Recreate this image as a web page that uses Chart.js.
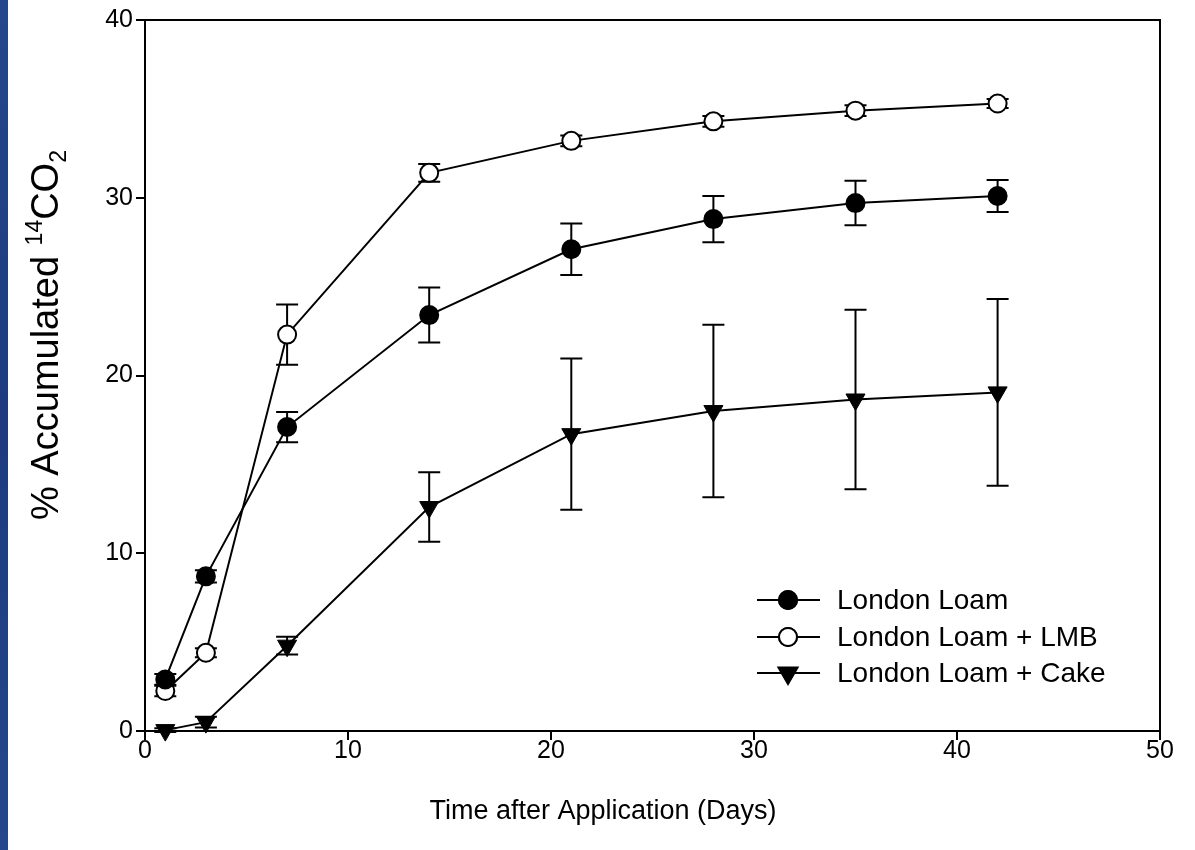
<!DOCTYPE html>
<html>
<head>
<meta charset="utf-8">
<script src="https://cdn.jsdelivr.net/npm/chart.js@4"></script>
<style>
  html, body { margin: 0; padding: 0; background: #fff; }
  #wrap { position: relative; width: 1195px; height: 850px; }
  #strip { position: absolute; left: 0; top: 0; width: 8px; height: 850px; background: linear-gradient(#26478c, #1d3b7e 50%, #26478c); }
  canvas { position: absolute; left: 0; top: 0; }
</style>
</head>
<body>
<div id="wrap">
  <div id="strip"></div>
  <canvas id="chart" width="1195" height="850"></canvas>
</div>
<script>
// days after application
const days = [1, 3, 7, 14, 21, 28, 35, 42];

// % accumulated 14CO2, means and error bars
const loam = [2.9, 8.7, 17.1, 23.4, 27.1, 28.8, 29.7, 30.1];
const loamErr = [0.3, 0.35, 0.85, 1.55, 1.45, 1.3, 1.25, 0.9];
const lmb = [2.25, 4.4, 22.3, 31.4, 33.2, 34.3, 34.9, 35.3];
const lmbErr = [0.3, 0.25, 1.7, 0.5, 0.3, 0.3, 0.3, 0.25];
const cake = [0.05, 0.5, 4.8, 12.6, 16.7, 18.0, 18.65, 19.05];
const cakeErr = [0.1, 0.3, 0.5, 1.95, 4.25, 4.85, 5.05, 5.25];

const seriesNames = ["London Loam", "London Loam + LMB", "London Loam + Cake"];
const xTicks = [0, 10, 20, 30, 40, 50];
const yTicks = [0, 10, 20, 30, 40];

const FONT = "'Liberation Sans', Arial, sans-serif";

function toPoints(ys) {
  return days.map((d, i) => ({ x: d, y: ys[i] }));
}

const errors = [loamErr, lmbErr, cakeErr];

// error bars go under the lines and markers
const errorBars = {
  id: "errorBars",
  beforeDatasetsDraw(chart) {
    const ctx = chart.ctx;
    const xs = chart.scales.x, ys = chart.scales.y;
    ctx.save();
    ctx.strokeStyle = "#000";
    ctx.lineWidth = 2;
    chart.data.datasets.forEach(ds => {
      const err = errors[ds.errIndex];
      ds.data.forEach((p, i) => {
        const px = xs.getPixelForValue(p.x);
        const top = ys.getPixelForValue(p.y + err[i]);
        const bot = ys.getPixelForValue(p.y - err[i]);
        ctx.beginPath();
        ctx.moveTo(px, top); ctx.lineTo(px, bot);
        ctx.moveTo(px - 11, top); ctx.lineTo(px + 11, top);
        ctx.moveTo(px - 11, bot); ctx.lineTo(px + 11, bot);
        ctx.stroke();
      });
    });
    ctx.restore();
  }
};

// frame, axis titles and legend
const decorations = {
  id: "decorations",
  afterDraw(chart) {
    const ctx = chart.ctx;
    const a = chart.chartArea;
    ctx.save();
    ctx.strokeStyle = "#000";
    ctx.lineWidth = 2;
    ctx.strokeRect(a.left, a.top, a.right - a.left, a.bottom - a.top);

    // x axis title
    ctx.fillStyle = "#000";
    ctx.font = "27px " + FONT;
    ctx.textAlign = "center";
    ctx.textBaseline = "middle";
    ctx.fillText("Time after Application (Days)", 603, 812);

    // y axis title with superscript/subscript
    ctx.translate(58, 335);
    ctx.rotate(-Math.PI / 2);
    ctx.textAlign = "left";
    ctx.textBaseline = "alphabetic";
    const big = "38px " + FONT, small = "23px " + FONT;
    const parts = [["% Accumulated ", big, 0], ["14", small, -16], ["CO", big, 0], ["2", small, 8]];
    let total = 0;
    parts.forEach(p => { ctx.font = p[1]; total += ctx.measureText(p[0]).width; });
    let cx = -total / 2;
    parts.forEach(p => {
      ctx.font = p[1];
      ctx.fillText(p[0], cx, p[2]);
      cx += ctx.measureText(p[0]).width;
    });
    ctx.restore();

    // legend
    ctx.save();
    const rows = [600, 637, 673];
    chart.data.datasets.slice().sort((p, q) => p.errIndex - q.errIndex).forEach((ds, i) => {
      const y = rows[i];
      ctx.strokeStyle = "#000";
      ctx.lineWidth = 2;
      ctx.beginPath();
      ctx.moveTo(757, y); ctx.lineTo(820, y);
      ctx.stroke();
      Chart.helpers.drawPoint(ctx, {
        pointStyle: ds.pointStyle, rotation: ds.pointRotation || 0,
        radius: ds.pointRadius, borderWidth: ds.pointBorderWidth
      }, 788, y);
      ctx.fillStyle = ds.pointBackgroundColor;
      ctx.strokeStyle = "#000";
      ctx.lineWidth = ds.pointBorderWidth;
      ctx.fill();
      ctx.stroke();
      ctx.fillStyle = "#000";
      ctx.font = "28px " + FONT;
      ctx.textBaseline = "middle";
      ctx.fillText(ds.label, 837, y + 1);
    });
    ctx.restore();
  }
};

new Chart(document.getElementById("chart"), {
  type: "line",
  data: {
    datasets: [
      {
        label: seriesNames[2], data: toPoints(cake), errIndex: 2,
        borderColor: "#000", borderWidth: 2, pointStyle: "triangle", pointRotation: 180,
        pointRadius: 11, pointBackgroundColor: "#000", pointBorderColor: "#000", pointBorderWidth: 1
      },
      {
        label: seriesNames[0], data: toPoints(loam), errIndex: 0,
        borderColor: "#000", borderWidth: 2, pointStyle: "circle",
        pointRadius: 9, pointBackgroundColor: "#000", pointBorderColor: "#000", pointBorderWidth: 2
      },
      {
        label: seriesNames[1], data: toPoints(lmb), errIndex: 1,
        borderColor: "#000", borderWidth: 2, pointStyle: "circle",
        pointRadius: 9, pointBackgroundColor: "#fff", pointBorderColor: "#000", pointBorderWidth: 2
      }
    ]
  },
  options: {
    responsive: false,
    animation: false,
    clip: false,
    layout: { padding: { top: 20, right: 35, left: 0, bottom: 0 } },
    elements: { line: { tension: 0 } },
    plugins: { legend: { display: false }, tooltip: { enabled: false } },
    scales: {
      x: {
        type: "linear", min: 0, max: 50,
        afterFit: s => { s.height = 119; s.paddingLeft = 0; s.paddingRight = 0; },
        afterBuildTicks: s => { s.ticks = xTicks.map(v => ({ value: v })); },
        grid: { drawOnChartArea: false, drawTicks: true, tickLength: 9, color: "#000", lineWidth: 2 },
        border: { display: true, color: "#000", width: 2 },
        ticks: { color: "#000", font: { family: FONT, size: 25, lineHeight: 1 }, padding: -1, maxRotation: 0 }
      },
      y: {
        type: "linear", min: 0, max: 40,
        afterFit: s => { s.width = 145; s.paddingTop = 0; s.paddingBottom = 0; },
        afterBuildTicks: s => { s.ticks = yTicks.map(v => ({ value: v })); },
        grid: { drawOnChartArea: false, drawTicks: true, tickLength: 9, color: "#000", lineWidth: 2 },
        border: { display: true, color: "#000", width: 2 },
        ticks: { color: "#000", font: { family: FONT, size: 25 }, padding: 3 }
      }
    }
  },
  plugins: [errorBars, decorations]
});
</script>
</body>
</html>
